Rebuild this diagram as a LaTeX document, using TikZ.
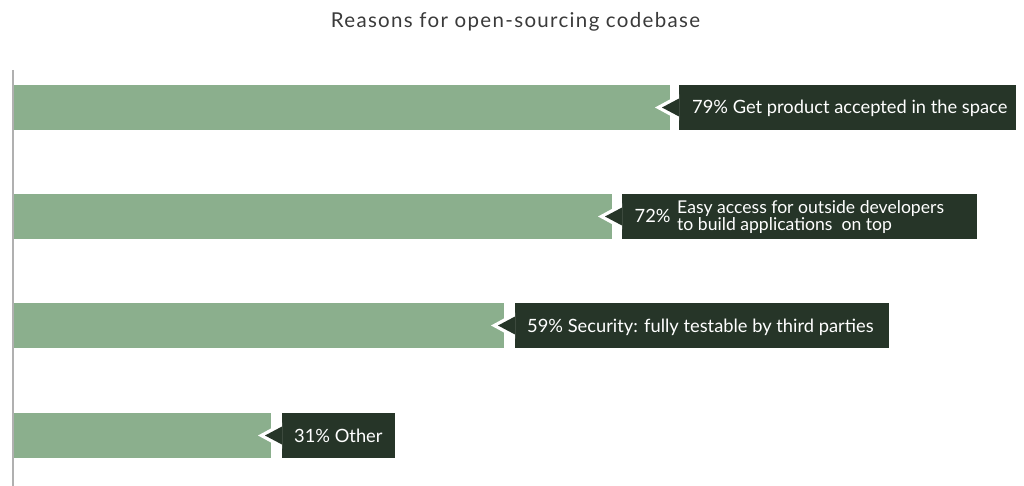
\documentclass[tikz,border=0pt]{standalone}
\usepackage{fontspec}
\setmainfont{Lato}
\definecolor{barc}{HTML}{8BAF8D}
\definecolor{labc}{HTML}{263528}
\definecolor{axisc}{HTML}{B0B0B0}
\definecolor{titlec}{HTML}{3A3A3A}
\tikzset{
  bar/.style={fill=barc, draw=none, inner sep=0pt, outer sep=0pt, minimum height=45pt, anchor=north west},
  labbox/.style={fill=labc, draw=none, inner sep=0pt, outer sep=0pt, minimum height=45pt, anchor=north west},
  labtext/.style={text=white, anchor=base west, inner sep=0pt, font=\fontsize{18.3}{18}\selectfont},
  labtwo/.style={text=white, anchor=west, inner sep=0pt, align=left, font=\fontsize{17.6}{15}\selectfont},
  pointerwhite/.style={fill=white},
  pointerdark/.style={fill=labc}
}
\newcommand{\mypointer}[1]{%
  \fill[pointerwhite] (#1.west) ++(-24,0) -- ++(24,-13) -- ++(0,26) -- cycle;
  \fill[pointerdark] (#1.west) ++(-17,0) -- ++(17,-9) -- ++(0,18) -- cycle;
}
\begin{document}
\begin{tikzpicture}[x=1pt,y=-1pt]
\useasboundingbox (0,0) rectangle (1024,486);
\node[text=titlec, anchor=base, inner sep=0pt, font=\fontsize{20.5}{22}\selectfont\addfontfeature{LetterSpace=6.5}] (title) at (515.5,27.7) {Reasons for open-sourcing codebase};
\coordinate (axtop) at (13,70);
\coordinate (axbot) at (13,486);
\draw[axisc, line width=1.6pt] (axtop) -- (axbot);
% bars
\node[bar, minimum width=656pt] (b1) at (14,85) {};
\node[bar, minimum width=598pt] (b2) at (14,194) {};
\node[bar, minimum width=490pt] (b3) at (14,303) {};
\node[bar, minimum width=257pt] (b4) at (14,413) {};
% label boxes
\node[labbox, minimum width=337pt] (l1) at (679,85) {};
\node[labbox, minimum width=355pt] (l2) at (622,194) {};
\node[labbox, minimum width=374pt] (l3) at (515,303) {};
\node[labbox, minimum width=113pt] (l4) at (282,413) {};
\mypointer{l1}
\mypointer{l2}
\mypointer{l3}
\mypointer{l4}
\node[labtext] (t1) at (692,114) {79\% Get product accepted in the space};
\node[labtext] (t2p) at (634.5,222.3) {72\%};
\node[labtwo] (t2) at (677,217) {Easy access for outside developers\\to build applications\ \ on top};
\node[labtext] (t3) at (527,332) {59\% Security: fully testable by third parties};
\node[labtext] (t4) at (294,442) {31\% Other};
\end{tikzpicture}
\end{document}
